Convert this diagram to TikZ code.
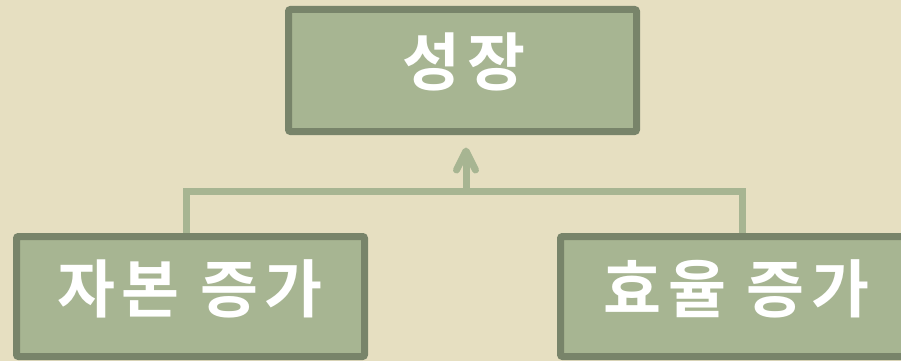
\documentclass[tikz,border=0pt]{standalone}
\usepackage{fontspec}
\newfontfamily\kr{Noto Sans CJK KR}[BoldFont={Noto Sans CJK KR Bold},LetterSpace=10]
\definecolor{bg}{HTML}{E6DFC1}
\definecolor{boxfill}{HTML}{A7B592}
\definecolor{boxline}{HTML}{78846A}
\definecolor{conncol}{HTML}{A7B592}
\begin{document}
\begin{tikzpicture}[x=1pt,y=-1pt,
  box/.style={draw=boxline,fill=boxfill,line width=7pt,rounded corners=2pt,inner sep=0pt,minimum height=120pt},
  label/.style={font=\kr\bfseries\fontsize{63}{63}\selectfont,text=white,anchor=base,inner sep=0pt},
  conn/.style={draw=conncol,line width=7pt}]
\fill[bg] (0,0) rectangle (901,361);
\useasboundingbox (0,0) rectangle (901,361);
\node[box,minimum width=348pt,minimum height=122pt] (top) at (462.5,70.5) {};
\node[box,minimum width=348pt] (lbox) at (190.5,296.5) {};
\node[box,minimum width=350pt] (rbox) at (735.5,296.5) {};
\node[label] (toptext) at (464,85) {성장};
\node[label] (ltext) at (190,312) {자본 증가};
\node[label] (rtext) at (736.5,312) {효율 증가};
\coordinate (la) at ([xshift=173.5pt]lbox.north west);
\coordinate (ra) at ([xshift=185pt]rbox.north west);
\coordinate (j) at (466,191.5);
\coordinate (tsb) at ([yshift=-16pt]top.south);
\coordinate (tip) at (j |- tsb);
\draw[conn] (la) |- (j) -| (ra);
\draw[conn] (j) -- (tip);
\draw[conn,line cap=round,line join=round] ([xshift=-9.5pt,yshift=-19pt]tip) -- (tip) -- ([xshift=9.5pt,yshift=-19pt]tip);
\end{tikzpicture}
\end{document}
